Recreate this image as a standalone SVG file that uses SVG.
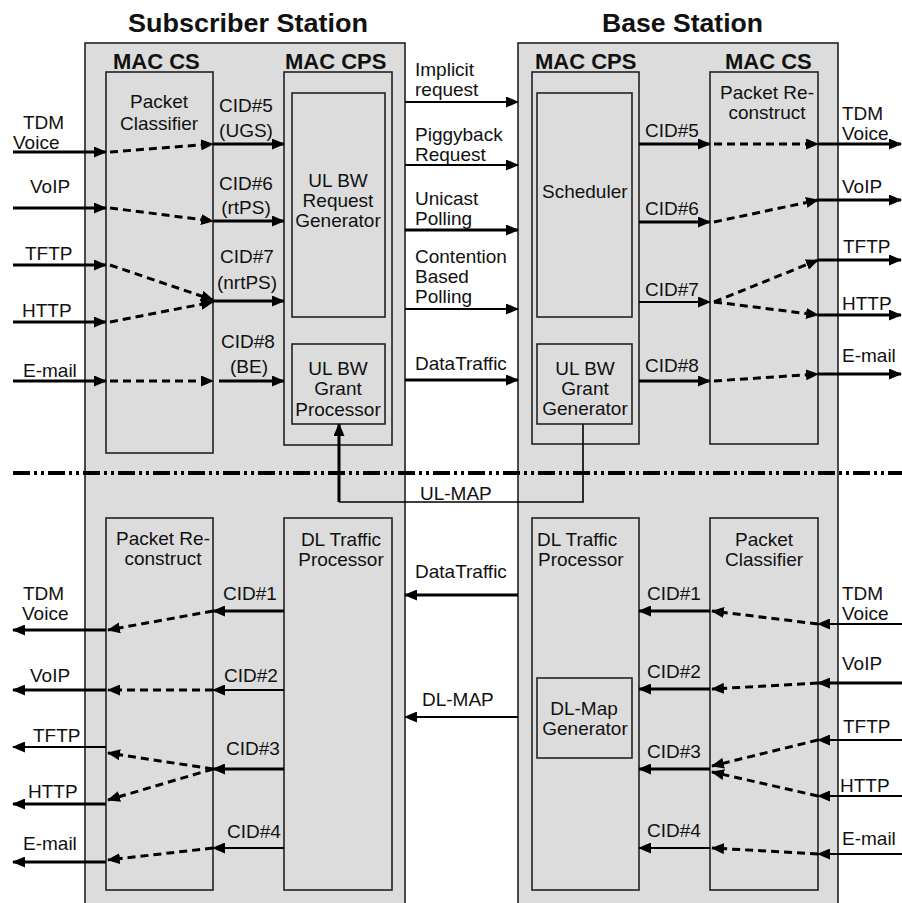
<svg xmlns="http://www.w3.org/2000/svg" width="902" height="903" viewBox="0 0 902 903">
<defs>
<marker id="ah" markerUnits="userSpaceOnUse" markerWidth="13" markerHeight="11" refX="12" refY="5.5" orient="auto">
<path d="M0,0 L13,5.5 L0,11 z" fill="#000"/>
</marker>
<style>
.outer{fill:#dcdcdc;stroke:#222;stroke-width:1.6}
.box{fill:#dcdcdc;stroke:#222;stroke-width:1.6}
.t{font-family:"Liberation Sans",Arial,sans-serif;font-size:19px;fill:#111}
.m{text-anchor:middle}
.h{font-family:"Liberation Sans",Arial,sans-serif;font-size:22px;font-weight:bold;fill:#111}
.ti{font-family:"Liberation Sans",Arial,sans-serif;font-size:25px;font-weight:bold;fill:#111}
.s{stroke:#000;stroke-width:3;fill:none;marker-end:url(#ah)}
.s2{stroke:#000;stroke-width:2;fill:none;marker-end:url(#ah)}
.d{stroke:#000;stroke-width:3;fill:none;stroke-dasharray:8 5;marker-end:url(#ah)}
.thin{stroke:#000;stroke-width:1.6;fill:none}
</style>
</defs>
<rect width="902" height="903" fill="#fff"/>

<g id="subscriber-station">
<rect class="outer" x="85" y="43" width="320" height="870"/>
<text class="ti" x="128" y="32" textLength="240" lengthAdjust="spacingAndGlyphs">Subscriber Station</text>
<text class="h" x="113" y="69">MAC CS</text>
<text class="h" x="285" y="69">MAC CPS</text>
</g>
<g id="base-station">
<rect class="outer" x="518" y="43" width="320" height="870"/>
<text class="ti" x="602" y="32" textLength="161" lengthAdjust="spacingAndGlyphs">Base Station</text>
<text class="h" x="535" y="69">MAC CPS</text>
<text class="h" x="725" y="69">MAC CS</text>
</g>

<g id="ss-packet-classifier">
<rect class="box" x="106" y="72" width="107" height="381"/>
<text class="t m" x="159" y="108">Packet</text>
<text class="t m" x="159" y="130">Classifier</text>
</g>
<g id="ss-mac-cps-ul">
<rect class="box" x="284" y="72" width="108" height="373"/>
</g>
<g id="ul-bw-request-generator">
<rect class="box" x="292" y="93" width="93" height="224"/>
<text class="t m" x="338" y="187">UL BW</text>
<text class="t m" x="338" y="207">Request</text>
<text class="t m" x="338" y="227">Generator</text>
</g>
<g id="ul-bw-grant-processor">
<rect class="box" x="292" y="344" width="93" height="80"/>
<text class="t m" x="338" y="375">UL BW</text>
<text class="t m" x="338" y="395">Grant</text>
<text class="t m" x="338" y="416">Processor</text>
</g>

<g id="bs-mac-cps-ul">
<rect class="box" x="532" y="72" width="107" height="372"/>
</g>
<g id="scheduler">
<rect class="box" x="537" y="93" width="95" height="224"/>
<text class="t" x="542" y="198">Scheduler</text>
</g>
<g id="ul-bw-grant-generator">
<rect class="box" x="537" y="344" width="95" height="80"/>
<text class="t m" x="585" y="375">UL BW</text>
<text class="t m" x="585" y="395">Grant</text>
<text class="t m" x="585" y="415">Generator</text>
</g>
<g id="bs-packet-reconstruct">
<rect class="box" x="710" y="72" width="108" height="372"/>
<text class="t m" x="767" y="99">Packet Re-</text>
<text class="t m" x="767" y="119">construct</text>
</g>

<g id="ss-packet-reconstruct">
<rect class="box" x="106" y="518" width="107" height="372"/>
<text class="t m" x="163" y="545">Packet Re-</text>
<text class="t m" x="163" y="565">construct</text>
</g>
<g id="ss-dl-traffic-processor">
<rect class="box" x="284" y="518" width="108" height="372"/>
<text class="t m" x="341" y="546">DL Traffic</text>
<text class="t m" x="341" y="566">Processor</text>
</g>
<g id="bs-dl-traffic-processor">
<rect class="box" x="532" y="518" width="107" height="372"/>
<text class="t" x="537" y="546">DL Traffic</text>
<text class="t" x="538" y="566">Processor</text>
</g>
<g id="dl-map-generator">
<rect class="box" x="537" y="678" width="95" height="80"/>
<text class="t m" x="584" y="715">DL-Map</text>
<text class="t m" x="585" y="735">Generator</text>
</g>
<g id="bs-packet-classifier">
<rect class="box" x="710" y="518" width="108" height="372"/>
<text class="t m" x="764" y="546">Packet</text>
<text class="t m" x="764" y="566">Classifier</text>
</g>

<g id="divider">
<line x1="13" y1="473" x2="902" y2="473" stroke="#000" stroke-width="4" stroke-dasharray="17 4 3 4 3 4"/>
</g>

<g id="connectors">
<line class="s" x1="13" y1="152" x2="106" y2="152"/>
<line class="d" x1="110" y1="152" x2="213" y2="144"/>
<line class="s" x1="213" y1="144" x2="284" y2="144"/>
<line class="s" x1="13" y1="208" x2="106" y2="208"/>
<line class="d" x1="110" y1="208" x2="213" y2="221"/>
<line class="s" x1="213" y1="221" x2="284" y2="221"/>
<line class="s" x1="13" y1="265" x2="106" y2="265"/>
<line class="d" x1="110" y1="265" x2="213" y2="300"/>
<line class="s" x1="13" y1="322" x2="106" y2="322"/>
<line class="d" x1="110" y1="322" x2="213" y2="302"/>
<line class="s" x1="213" y1="301" x2="284" y2="301"/>
<line class="s" x1="13" y1="381" x2="106" y2="381"/>
<line class="d" x1="110" y1="381" x2="213" y2="381"/>
<line class="s" x1="219" y1="381" x2="284" y2="381"/>
<line class="s2" x1="405" y1="102" x2="518" y2="102"/>
<line class="s2" x1="405" y1="165" x2="518" y2="165"/>
<line class="s" x1="405" y1="230" x2="518" y2="230"/>
<line class="s2" x1="405" y1="309" x2="518" y2="309"/>
<line class="s" x1="405" y1="380" x2="518" y2="380"/>
<line class="s" x1="639" y1="144" x2="710" y2="144"/>
<line class="d" x1="714" y1="144" x2="818" y2="144"/>
<line class="s" x1="818" y1="144" x2="901" y2="144"/>
<line class="s" x1="639" y1="222" x2="710" y2="222"/>
<line class="d" x1="714" y1="222" x2="818" y2="200"/>
<line class="s" x1="818" y1="200" x2="901" y2="200"/>
<line class="s2" x1="639" y1="302" x2="710" y2="302"/>
<line class="d" x1="714" y1="302" x2="818" y2="260"/>
<line class="d" x1="714" y1="302" x2="818" y2="315"/>
<line class="s" x1="818" y1="260" x2="901" y2="260"/>
<line class="s" x1="818" y1="315" x2="901" y2="315"/>
<line class="s" x1="639" y1="381" x2="710" y2="381"/>
<line class="d" x1="714" y1="381" x2="818" y2="374"/>
<line class="s" x1="818" y1="374" x2="901" y2="374"/>
<polyline class="thin" points="583,424 583,502 339,502"/>
<line class="s" x1="339" y1="502" x2="339" y2="424"/>
<line class="s" x1="518" y1="595" x2="405" y2="595"/>
<line class="s2" x1="518" y1="717" x2="405" y2="717"/>
<line class="s" x1="284" y1="611" x2="213" y2="611"/>
<line class="d" x1="213" y1="611" x2="108" y2="630"/>
<line class="s" x1="106" y1="630" x2="13" y2="630"/>
<line class="s2" x1="284" y1="690" x2="213" y2="690"/>
<line class="d" x1="213" y1="690" x2="108" y2="690"/>
<line class="s" x1="106" y1="690" x2="13" y2="690"/>
<line class="s" x1="284" y1="769" x2="213" y2="769"/>
<line class="d" x1="213" y1="769" x2="108" y2="753"/>
<line class="d" x1="213" y1="769" x2="108" y2="800"/>
<line class="s2" x1="106" y1="747" x2="13" y2="747"/>
<line class="s" x1="106" y1="804" x2="13" y2="804"/>
<line class="s2" x1="284" y1="848" x2="213" y2="848"/>
<line class="d" x1="213" y1="848" x2="108" y2="860"/>
<line class="s" x1="106" y1="862" x2="13" y2="862"/>
<line class="s" x1="710" y1="611" x2="639" y2="611"/>
<line class="d" x1="818" y1="624" x2="712" y2="611"/>
<line class="s2" x1="902" y1="624" x2="818" y2="624"/>
<line class="s" x1="710" y1="689" x2="639" y2="689"/>
<line class="d" x1="818" y1="683" x2="712" y2="689"/>
<line class="s" x1="902" y1="683" x2="818" y2="683"/>
<line class="s" x1="710" y1="769" x2="639" y2="769"/>
<line class="d" x1="818" y1="740" x2="712" y2="766"/>
<line class="d" x1="818" y1="796" x2="712" y2="772"/>
<line class="s2" x1="902" y1="740" x2="818" y2="740"/>
<line class="s2" x1="902" y1="796" x2="818" y2="796"/>
<line class="s2" x1="710" y1="848" x2="639" y2="848"/>
<line class="d" x1="818" y1="854" x2="712" y2="848"/>
<line class="s2" x1="902" y1="854" x2="818" y2="854"/>
</g>

<g id="labels">
<text class="t" x="23" y="129">TDM</text>
<text class="t" x="13" y="149">Voice</text>
<text class="t" x="30" y="193">VoIP</text>
<text class="t" x="25" y="260">TFTP</text>
<text class="t" x="22" y="317">HTTP</text>
<text class="t" x="23" y="377">E-mail</text>

<text class="t m" x="246" y="112">CID#5</text>
<text class="t m" x="246" y="137">(UGS)</text>
<text class="t m" x="246" y="190">CID#6</text>
<text class="t m" x="246" y="214">(rtPS)</text>
<text class="t m" x="247" y="263">CID#7</text>
<text class="t m" x="247" y="289">(nrtPS)</text>
<text class="t m" x="248" y="348">CID#8</text>
<text class="t m" x="249" y="373">(BE)</text>

<text class="t" x="415" y="76">Implicit</text>
<text class="t" x="415" y="96">request</text>
<text class="t" x="415" y="141">Piggyback</text>
<text class="t" x="415" y="161">Request</text>
<text class="t" x="415" y="205">Unicast</text>
<text class="t" x="415" y="225">Polling</text>
<text class="t" x="415" y="263">Contention</text>
<text class="t" x="415" y="283">Based</text>
<text class="t" x="415" y="303">Polling</text>
<text class="t" x="415" y="370">DataTraffic</text>

<text class="t" x="645" y="137">CID#5</text>
<text class="t" x="645" y="215">CID#6</text>
<text class="t" x="645" y="296">CID#7</text>
<text class="t" x="645" y="372">CID#8</text>

<text class="t" x="842" y="120">TDM</text>
<text class="t" x="842" y="140">Voice</text>
<text class="t" x="842" y="193">VoIP</text>
<text class="t" x="843" y="253">TFTP</text>
<text class="t" x="842" y="310">HTTP</text>
<text class="t" x="842" y="362">E-mail</text>

<text class="t" x="420" y="500">UL-MAP</text>
<text class="t" x="415" y="578">DataTraffic</text>
<text class="t" x="422" y="706">DL-MAP</text>

<text class="t" x="223" y="600">CID#1</text>
<text class="t" x="224" y="682">CID#2</text>
<text class="t" x="226" y="755">CID#3</text>
<text class="t" x="227" y="838">CID#4</text>

<text class="t" x="23" y="600">TDM</text>
<text class="t" x="22" y="620">Voice</text>
<text class="t" x="30" y="682">VoIP</text>
<text class="t" x="33" y="742">TFTP</text>
<text class="t" x="28" y="798">HTTP</text>
<text class="t" x="23" y="850">E-mail</text>

<text class="t" x="647" y="600">CID#1</text>
<text class="t" x="647" y="678">CID#2</text>
<text class="t" x="647" y="758">CID#3</text>
<text class="t" x="647" y="837">CID#4</text>

<text class="t" x="842" y="600">TDM</text>
<text class="t" x="842" y="620">Voice</text>
<text class="t" x="842" y="670">VoIP</text>
<text class="t" x="843" y="733">TFTP</text>
<text class="t" x="840" y="792">HTTP</text>
<text class="t" x="842" y="845">E-mail</text>
</g>
</svg>
